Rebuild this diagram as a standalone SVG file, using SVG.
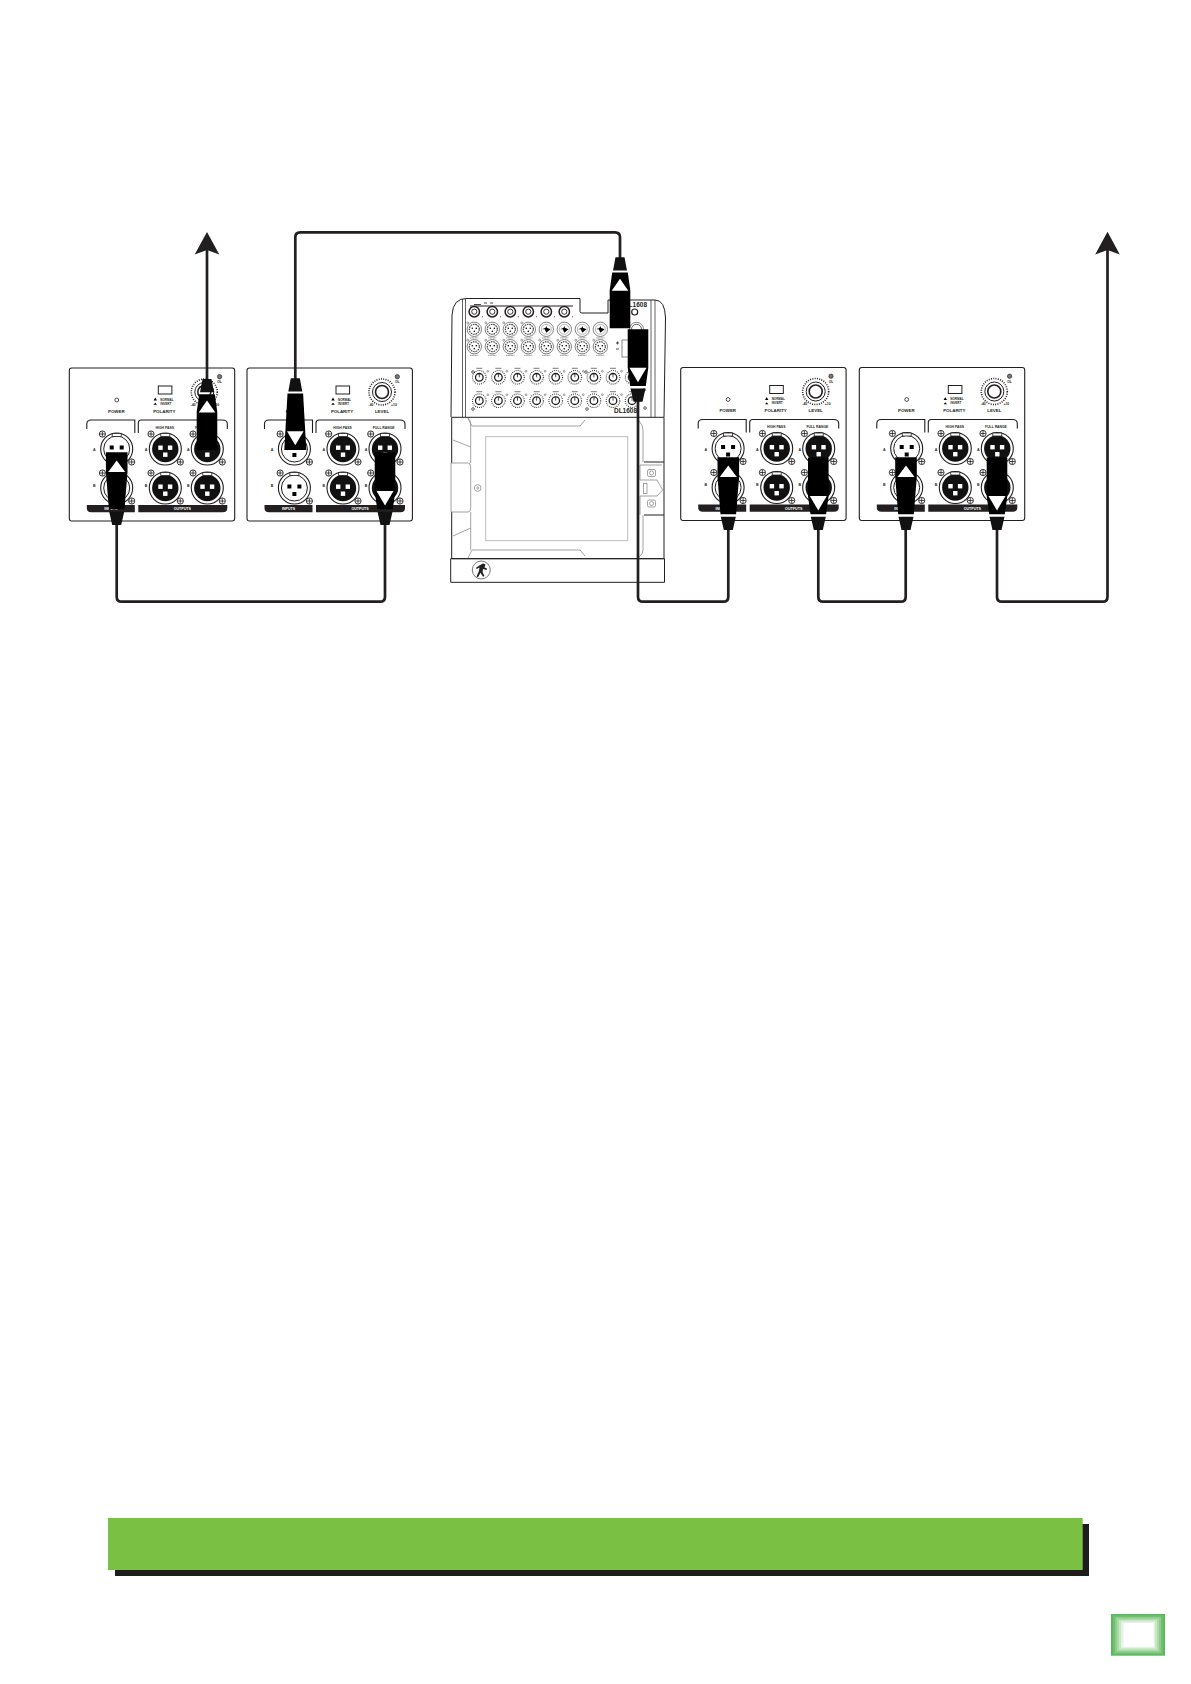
<svg xmlns="http://www.w3.org/2000/svg" xmlns:xlink="http://www.w3.org/1999/xlink" width="1191" height="1684" viewBox="0 0 1191 1684">
<style>
text{font-family:"Liberation Sans",Arial,sans-serif;fill:#231f20;text-anchor:middle}
.t{font-size:4.4px;font-weight:700}
.s{font-size:3.4px;font-weight:700}
.l{font-size:3.6px;font-weight:700}
.x{font-size:3px;text-anchor:start;font-weight:700}
.w{font-size:3.6px;font-weight:700;fill:#fff}
.ln{fill:none;stroke:#231f20;stroke-width:1.1}
.cable{fill:none;stroke:#231f20;stroke-width:2.7;stroke-linejoin:round}
.k{fill:#000}
.g{fill:none;stroke:#8c8c8c;stroke-width:.8}
.m{fill:none;stroke:#231f20;stroke-width:.7}
</style>
<defs>
<g id="screw"><circle r="3.1" fill="#fff" stroke="#231f20" stroke-width=".9"/><path d="M-2.6 0H2.6M0-2.6V2.6" stroke="#231f20" stroke-width=".8"/></g>
<g id="xlrIn">
<use href="#screw" x="-14.3" y="-15"/><use href="#screw" x="15" y="13"/>
<circle r="16" fill="#fff" stroke="#231f20" stroke-width="1.1"/><circle r="13" fill="#fff" stroke="#231f20" stroke-width="1"/>
<rect x="-4.5" y="-15.5" width="9" height="3" fill="#fff" stroke="#231f20" stroke-width=".8"/>
<rect x="-7" y="-3.5" width="4" height="4" class="k"/><rect x="3" y="-3.5" width="4" height="4" class="k"/><rect x="-2" y="4" width="4" height="4" class="k"/>
</g>
<g id="xlrOut">
<use href="#screw" x="-14.3" y="-15"/><use href="#screw" x="15" y="13"/>
<circle r="16" fill="#fff" stroke="#231f20" stroke-width="1.1"/><circle r="13.2" fill="#111"/>
<rect x="-4.5" y="-15.5" width="9" height="3" fill="#fff" stroke="#231f20" stroke-width=".8"/>
<rect x="-7" y="-3.5" width="4.4" height="4.4" fill="#fff"/><rect x="2.6" y="-3.5" width="4.4" height="4.4" fill="#fff"/><rect x="-2.2" y="3.5" width="4.4" height="4.4" fill="#fff"/>
</g>
<g id="panel">
<rect width="165.4" height="153" rx="2.5" fill="#fff" stroke="#231f20" stroke-width="1.1"/>
<circle cx="47.4" cy="32" r="1.9" fill="#fff" stroke="#231f20" stroke-width=".8"/>
<rect x="89" y="18" width="13.6" height="8" fill="#fff" stroke="#231f20" stroke-width="1"/>
<path d="M84.3 32.5l1.7-3 1.7 3zM84.3 36.7l1.7-2 1.7 2z" class="k"/>
<circle cx="135" cy="24" r="13" fill="none" stroke="#231f20" stroke-width="1.6" stroke-dasharray="1 1.3"/>
<circle cx="135" cy="24" r="9.5" fill="none" stroke="#231f20" stroke-width="1"/>
<circle cx="135" cy="24" r="6.5" fill="#fff" stroke="#231f20" stroke-width="1.6"/>
<circle cx="150.3" cy="8.7" r="2.2" fill="#777" stroke="#231f20" stroke-width=".6"/>
<path class="ln" d="M17.5 61V56Q17.500 52 22 52H65.500V65M69 65V55Q69 52 72 52H153Q158 52 158 56V61"/>
<path d="M17.500 137H65.500V144.300H22Q17.500 144.300 17.500 140zM69 137H158V140Q158 144.300 153.500 144.300H69z" fill="#231f20"/>
<use href="#xlrIn" x="47.400" y="81"/><use href="#xlrIn" x="47.400" y="120"/>
<use href="#xlrOut" x="96" y="81"/><use href="#xlrOut" x="96" y="120"/>
<use href="#xlrOut" x="138" y="81"/><use href="#xlrOut" x="138" y="120"/>
</g>
<g id="plugB"><path d="M-10.800-72.700H10.800V-53L7.800-15.700H-7.800L-10.800-53z" class="k"/><path d="M-7.500-13.300H7.500L4.500 0H-4.500z" fill="#111"/><path d="M0-64.500L8.500-53H-8.500z" fill="#fff"/></g>
<g id="plugD"><path d="M-10.300-72.500H10.300V-34L7.800-15.700H-7.800L-10.300-34z" class="k"/><path d="M-7.500-13.300H7.500L4.500 0H-4.500z" fill="#111"/><path d="M-8.500-34H8.500L0-19.500z" fill="#fff"/></g>
<g id="plugT"><path d="M-4.500 0H4.500L7 13.300H-7z" fill="#111"/><path d="M-7.800 15.300H7.800L10.300 33V71H-10.300V33z" class="k"/><path d="M0 21.500L8.300 33.500H-8.300z" fill="#fff"/></g>
<g id="plugTD"><path d="M-4.500 0H4.500L7 13.300H-7z" fill="#111"/><path d="M-7.800 15.300H7.800L11 71.700H-11z" class="k"/><path d="M-8.300 53H8.300L0 67z" fill="#fff"/></g>
<g id="jack"><circle r="5.200" fill="#fff" stroke="#231f20" stroke-width="1.500"/><circle r="2.600" fill="#fff" stroke="#231f20" stroke-width=".9"/><circle cx="8" cy="5" r=".5" class="k"/></g>
<g id="mx"><circle r="7.200" fill="#fff" stroke="#333" stroke-width=".6"/><circle r="5" fill="none" stroke="#333" stroke-width="1.100" stroke-dasharray="1.600 .8"/><circle cx="-2" cy="-1" r=".8" class="k"/><circle cx="2" cy="-1" r=".8" class="k"/><circle cy="2" r=".8" class="k"/><path d="M-4 8.600H4" stroke="#444" stroke-width=".7" stroke-dasharray="1 .5"/><circle cx="-6.500" cy="-6.500" r="1" fill="none" stroke="#444" stroke-width=".5"/></g>
<g id="mxd"><circle r="7.200" fill="#fff" stroke="#333" stroke-width=".6"/><circle r="5" fill="none" stroke="#999" stroke-width=".7"/><path d="M-4.200 0L0-1.800L4.200 0L0 3.400L-1.500 0z" class="k"/><path d="M0-3.500L1 0H-1z" class="k"/><path d="M-4 8.600H4" stroke="#444" stroke-width=".7" stroke-dasharray="1 .5"/></g>
<g id="kn"><circle r="6.800" fill="none" stroke="#333" stroke-width="1.100" stroke-dasharray=".9 1.100"/><circle r="3.800" fill="#fff" stroke="#231f20" stroke-width="1.300"/><path d="M0-3.500V0" stroke="#231f20" stroke-width=".8"/><path d="M-3-9H3" stroke="#444" stroke-width=".7"/><circle cx="8.500" cy="-6" r=".9" fill="none" stroke="#444" stroke-width=".5"/></g>
</defs>
<rect width="1191" height="1684" fill="#fff"/>

<g id="speaker-1" transform="translate(69.300 368)"><use href="#panel"/>
<text class="t" x="47" y="44.500">POWER</text><text class="t" x="95" y="44.500">POLARITY</text><text class="t" x="135" y="44.500">LEVEL</text>
<text class="x" x="91" y="32.500">NORMAL</text><text class="x" x="91" y="36.800">INVERT</text>
<text class="s" x="124" y="37.500">-40</text><text class="s" x="147" y="37.500">+10</text><text class="s" x="150.300" y="15">OL</text>
<text class="s" x="95.500" y="60.500">HIGH PASS</text><text class="s" x="136.700" y="60.500">FULL RANGE</text>
<text class="l" x="25" y="83">A</text><text class="l" x="25" y="118.500">B</text><text class="l" x="76.700" y="83">A</text><text class="l" x="76.700" y="118.500">B</text><text class="l" x="119" y="83">A</text><text class="l" x="119" y="118.500">B</text>
<text class="w" x="41.500" y="142">INPUTS</text><text class="w" x="113" y="142">OUTPUTS</text></g>

<g id="speaker-2" transform="translate(247 368)"><use href="#panel"/>
<text class="t" x="47" y="44.500">POWER</text><text class="t" x="95" y="44.500">POLARITY</text><text class="t" x="135" y="44.500">LEVEL</text>
<text class="x" x="91" y="32.500">NORMAL</text><text class="x" x="91" y="36.800">INVERT</text>
<text class="s" x="124" y="37.500">-40</text><text class="s" x="147" y="37.500">+10</text><text class="s" x="150.300" y="15">OL</text>
<text class="s" x="95.500" y="60.500">HIGH PASS</text><text class="s" x="136.700" y="60.500">FULL RANGE</text>
<text class="l" x="25" y="83">A</text><text class="l" x="25" y="118.500">B</text><text class="l" x="76.700" y="83">A</text><text class="l" x="76.700" y="118.500">B</text><text class="l" x="119" y="83">A</text><text class="l" x="119" y="118.500">B</text>
<text class="w" x="41.500" y="142">INPUTS</text><text class="w" x="113" y="142">OUTPUTS</text></g>

<g id="speaker-3" transform="translate(680.700 367.500)"><use href="#panel"/>
<text class="t" x="47" y="44.500">POWER</text><text class="t" x="95" y="44.500">POLARITY</text><text class="t" x="135" y="44.500">LEVEL</text>
<text class="x" x="91" y="32.500">NORMAL</text><text class="x" x="91" y="36.800">INVERT</text>
<text class="s" x="124" y="37.500">-40</text><text class="s" x="147" y="37.500">+10</text><text class="s" x="150.300" y="15">OL</text>
<text class="s" x="95.500" y="60.500">HIGH PASS</text><text class="s" x="136.700" y="60.500">FULL RANGE</text>
<text class="l" x="25" y="83">A</text><text class="l" x="25" y="118.500">B</text><text class="l" x="76.700" y="83">A</text><text class="l" x="76.700" y="118.500">B</text><text class="l" x="119" y="83">A</text><text class="l" x="119" y="118.500">B</text>
<text class="w" x="41.500" y="142">INPUTS</text><text class="w" x="113" y="142">OUTPUTS</text></g>

<g id="speaker-4" transform="translate(859.300 367.500)"><use href="#panel"/>
<text class="t" x="47" y="44.500">POWER</text><text class="t" x="95" y="44.500">POLARITY</text><text class="t" x="135" y="44.500">LEVEL</text>
<text class="x" x="91" y="32.500">NORMAL</text><text class="x" x="91" y="36.800">INVERT</text>
<text class="s" x="124" y="37.500">-40</text><text class="s" x="147" y="37.500">+10</text><text class="s" x="150.300" y="15">OL</text>
<text class="s" x="95.500" y="60.500">HIGH PASS</text><text class="s" x="136.700" y="60.500">FULL RANGE</text>
<text class="l" x="25" y="83">A</text><text class="l" x="25" y="118.500">B</text><text class="l" x="76.700" y="83">A</text><text class="l" x="76.700" y="118.500">B</text><text class="l" x="119" y="83">A</text><text class="l" x="119" y="118.500">B</text>
<text class="w" x="41.500" y="142">INPUTS</text><text class="w" x="113" y="142">OUTPUTS</text></g>

<g id="mixer">
<path d="M451 417L452 315Q453 298 467 298.500H580V311.500Q580 313 582 313H608V300H655Q665 300 665.500 318L664 417" fill="#fff" stroke="#231f20" stroke-width="1"/>
<path d="M462.500 299V417M465.500 299V417M651 300V417M655 300V417" class="m"/>
<path d="M470 306H573" stroke="#231f20" stroke-width="1"/>
<path d="M474 304.500H481M484 303H487M490 303H493" stroke="#333" stroke-width=".9"/>
<use href="#jack" x="474.300" y="311.700"/><use href="#jack" x="492.300" y="311.700"/><use href="#jack" x="510.300" y="311.700"/><use href="#jack" x="528.300" y="311.700"/><use href="#jack" x="546.300" y="311.700"/><use href="#jack" x="564.300" y="311.700"/>
<use href="#mx" x="474.300" y="329.300"/><use href="#mx" x="492.300" y="329.300"/><use href="#mx" x="510.300" y="329.300"/><use href="#mx" x="528.300" y="329.300"/><use href="#mxd" x="546.300" y="329.300"/><use href="#mxd" x="564.300" y="329.300"/><use href="#mxd" x="582.300" y="329.300"/><use href="#mxd" x="600.300" y="329.300"/>
<use href="#mx" x="474.300" y="346.700"/><use href="#mx" x="492.300" y="346.700"/><use href="#mx" x="510.300" y="346.700"/><use href="#mx" x="528.300" y="346.700"/><use href="#mx" x="546.300" y="346.700"/><use href="#mx" x="564.300" y="346.700"/><use href="#mx" x="582.300" y="346.700"/><use href="#mx" x="600.300" y="346.700"/>
<circle cx="636.500" cy="329.300" r="7" fill="#fff" stroke="#333" stroke-width=".6"/><circle cx="636.500" cy="329.300" r="5" class="m"/>
<circle cx="634.700" cy="312" r="3" fill="#fff" stroke="#231f20" stroke-width="1.200"/>
<rect x="622" y="340" width="9" height="17" fill="#fff" stroke="#555" stroke-width=".7"/>
<path d="M616 343h3M617.500 341.500v3M616 349h3" stroke="#231f20" stroke-width=".8"/>
<use href="#kn" x="479.300" y="377.300"/><use href="#kn" x="498.400" y="377.300"/><use href="#kn" x="517.500" y="377.300"/><use href="#kn" x="536.600" y="377.300"/><use href="#kn" x="555.700" y="377.300"/><use href="#kn" x="574.800" y="377.300"/><use href="#kn" x="593.900" y="377.300"/><use href="#kn" x="613" y="377.300"/><use href="#kn" x="632.100" y="377.300"/>
<use href="#kn" x="479.300" y="400.700"/><use href="#kn" x="498.400" y="400.700"/><use href="#kn" x="517.500" y="400.700"/><use href="#kn" x="536.600" y="400.700"/><use href="#kn" x="555.700" y="400.700"/><use href="#kn" x="574.800" y="400.700"/><use href="#kn" x="593.900" y="400.700"/><use href="#kn" x="613" y="400.700"/><use href="#kn" x="632.100" y="400.700"/>
<circle cx="473" cy="372" r="1.300" class="m"/><circle cx="473" cy="416" r="0" class="m"/><circle cx="586" cy="372" r="1.300" class="m"/><circle cx="473" cy="409" r="1.300" class="m"/><circle cx="587" cy="409" r="1.300" class="m"/><circle cx="645" cy="408" r="1.300" class="m"/><circle cx="644" cy="390" r="1.300" class="m"/>
<text x="647" y="307" style="font-size:6.500px;font-weight:700;text-anchor:end">DL1608</text>
<text x="625.500" y="412.700" style="font-size:6.500px;font-weight:700">DL1608</text>
<g id="dock">
<path d="M451.700 417.300H664V558.700H451.700z" fill="#fff"/>
<path d="M451.700 463V417.300H664V558.700H451.700V512M450.700 558.700H664.500V582.300H450.700zM644 462H664M644 515H664" fill="none" stroke="#231f20" stroke-width="1"/>
<path class="g" d="M451 463H468Q470.700 463 470.700 467V508Q470.700 512 468 512H451zM470.700 463V425Q470.700 420 468 418M470.700 512V550M453 440L470.700 447M453 536L470.700 528M468 418.500L472 426H580L585 420M468 558L472 550H580L585 556M639 421Q643 425 643 430V462M640 465H662M640 465V480H657L662.700 490L657 496H640V515M643 515V550Q643 554 639 557"/>
<rect x="485.700" y="436.700" width="142" height="104" fill="#fff" stroke="#b5b5b5" stroke-width=".9"/>
<circle cx="477.700" cy="488" r="3.300" class="g"/><circle cx="477.700" cy="488" r="1" class="g"/>
<rect x="643.500" y="483.500" width="3.500" height="10" class="g"/>
<rect x="647.500" y="469.500" width="8" height="7" rx="1.500" class="g"/><circle cx="651.500" cy="473" r="2" class="g"/>
<rect x="647.500" y="500" width="8" height="7" rx="1.500" class="g"/><circle cx="651.500" cy="503.500" r="2" class="g"/>
<circle cx="481.300" cy="570" r="9" fill="#fff" stroke="#777" stroke-width="1"/>
<path d="M483 563.500l2.500 1-1 3 2.500 1-.5 1.500-3.500-1-.5 3 2 4-1.500.8-2.500-4-2.500 4.500-1.500-.8 2.300-5 .7-4-2.800 1.500-.7-1.200 3.800-2.500z" fill="#231f20"/>
</g>
</g>

<g id="connectors">
<path class="cable" d="M116.700 518V596.700Q116.700 601.700 121.700 601.700H380Q385 601.700 385 596.700V518"/>
<path class="cable" d="M207 382V250"/>
<path class="cable" d="M295.300 382V237.300Q295.300 232.300 300.300 232.300H615Q620 232.300 620 237.300V260"/>
<path class="cable" d="M638 398V596.700Q638 601.700 643 601.700H723.300Q728.300 601.700 728.300 596.700V518"/>
<path class="cable" d="M818.300 518V596.700Q818.300 601.700 823.300 601.700H900.700Q905.700 601.700 905.700 596.700V518"/>
<path class="cable" d="M997 518V596.700Q997 601.700 1002 601.700H1102.700Q1107.500 601.700 1107.500 596.700V250"/>
<path d="M207 232L219.300 254.500L207 250L194.700 254.500z" fill="#231f20"/>
<path d="M1107.500 231.700L1119.800 254.500L1107.500 250L1095.200 254.500z" fill="#231f20"/>
<use href="#plugB" x="116.700" y="525"/>
<use href="#plugT" x="207" y="379"/>
<use href="#plugTD" x="295.300" y="378.300"/>
<use href="#plugD" x="385" y="525"/>
<use href="#plugT" x="620" y="257.300"/>
<use href="#plugD" x="638" y="401.700"/>
<use href="#plugB" x="728.300" y="530"/>
<use href="#plugD" x="818.300" y="530"/>
<use href="#plugB" x="906" y="530"/>
<use href="#plugD" x="997" y="530"/>
</g>

<g id="banner">
<path d="M115 1524H1089V1576H115z" fill="#1f1d1b"/>
<rect x="108" y="1518" width="974.700" height="52" fill="#7ac143"/>
</g>

<g id="page-tab">
<rect x="1111" y="1614" width="54" height="41.700" fill="#5cb85f"/>
<rect x="1113" y="1615.500" width="50" height="38.700" fill="#70c070"/>
<rect x="1115" y="1617" width="46" height="35.700" fill="#8dcd8c"/>
<rect x="1117" y="1618.500" width="42" height="32.700" fill="#abdaa9"/>
<rect x="1119" y="1620" width="38" height="29.700" fill="#c9e7c7"/>
<rect x="1121" y="1621.500" width="34" height="26.700" fill="#e4f3e3"/>
<rect x="1123.500" y="1623" width="30" height="23.700" fill="#fff"/>
</g>
</svg>
